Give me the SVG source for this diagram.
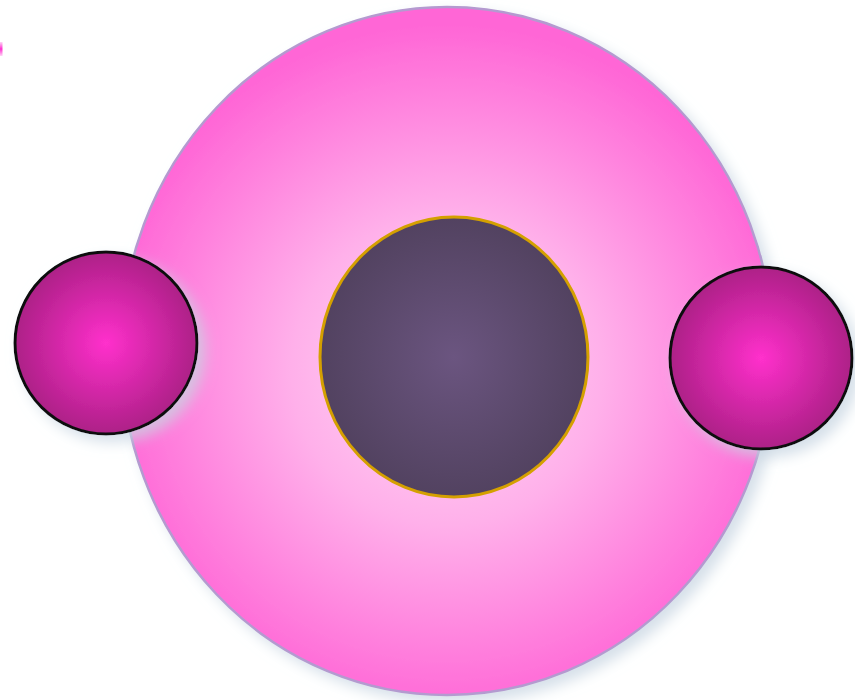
<svg xmlns="http://www.w3.org/2000/svg" width="855" height="700" viewBox="0 0 855 700">
  <defs>
    <radialGradient id="gBig" cx="447" cy="370" r="345" gradientUnits="userSpaceOnUse">
      <stop offset="0" stop-color="#ffdaf5"/>
      <stop offset="0.45" stop-color="#ffb0ea"/>
      <stop offset="1" stop-color="#ff66d6"/>
    </radialGradient>
    <radialGradient id="gSmall" cx="0.5" cy="0.5" r="0.5">
      <stop offset="0" stop-color="#ff30cc"/>
      <stop offset="1" stop-color="#ad2087"/>
    </radialGradient>
    <radialGradient id="gCore" cx="0.5" cy="0.5" r="0.5">
      <stop offset="0" stop-color="#6b5580"/>
      <stop offset="1" stop-color="#524260"/>
    </radialGradient>
    <linearGradient id="gMark" x1="0" y1="0" x2="0" y2="1">
      <stop offset="0" stop-color="#ff30d0" stop-opacity="0.2"/>
      <stop offset="0.5" stop-color="#ff30d0"/>
      <stop offset="1" stop-color="#ff30d0" stop-opacity="0.2"/>
    </linearGradient>
    <filter id="shadow" x="-20%" y="-20%" width="140%" height="140%">
      <feDropShadow dx="7" dy="7" stdDeviation="7" flood-color="#c8d6e2" flood-opacity="0.75"/>
    </filter>
    <style>
      .big { fill: url(#gBig); stroke: #b49ad0; stroke-width: 2.5; }
      .small { fill: url(#gSmall); stroke: #111111; stroke-width: 3; }
      .core { fill: url(#gCore); stroke: #d4a000; stroke-width: 3; }
    </style>
  </defs>
  <rect width="855" height="700" fill="#ffffff"/>
  <rect x="0" y="42" width="2.5" height="14" fill="url(#gMark)"/>
  <g id="cell" filter="url(#shadow)">
    <ellipse class="big" cx="447" cy="351" rx="326" ry="344"/>
  </g>
  <g id="nucleus">
    <ellipse class="core" cx="454" cy="357" rx="134" ry="140"/>
  </g>
  <g id="left-particle" filter="url(#shadow)">
    <circle class="small" cx="106" cy="343" r="91"/>
  </g>
  <g id="right-particle" filter="url(#shadow)">
    <circle class="small" cx="761" cy="358" r="91"/>
  </g>
  <g id="connectors"/>
</svg>
